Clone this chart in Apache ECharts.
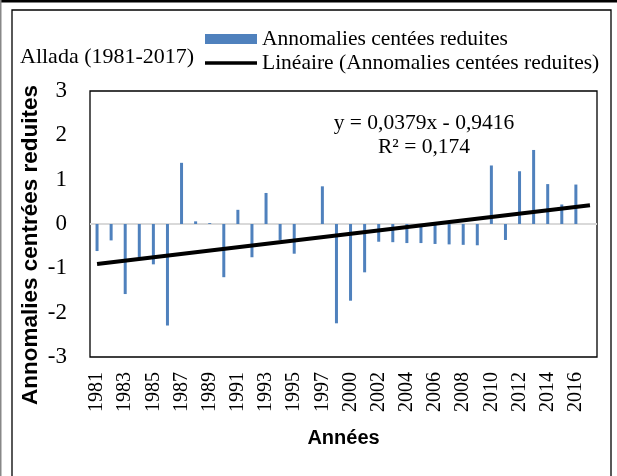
<!DOCTYPE html>
<html>
<head>
<meta charset="utf-8">
<script src="https://cdn.jsdelivr.net/npm/echarts@6/dist/echarts.min.js"></script>
<style>
  html, body { margin: 0; padding: 0; background: #fff; }
  #chart { width: 617px; height: 476px; }
</style>
</head>
<body>
<div id="chart"></div>
<script>
// Allada station, standardised anomalies, 1981-2017
const years = [
  '1981','1982','1983','1984','1985','1986','1987','1988','1989','1990',
  '1991','1992','1993','1994','1995','1996','1997','1998','2000','2001',
  '2002','2003','2004','2005','2006','2007','2008','2009','2010','2011',
  '2012','2013','2014','2015','2016','2017'
];
const anomalies = [
  -0.61, -0.37, -1.58, -0.75, -0.91, -2.29, 1.38, 0.06, 0.02, -1.20,
   0.32, -0.75, 0.70, -0.36, -0.67, 0.00, 0.85, -2.24, -1.73, -1.09,
  -0.40, -0.41, -0.43, -0.43, -0.45, -0.46, -0.47, -0.48, 1.32, -0.36,
   1.19, 1.67, 0.90, 0.44, 0.89, 0.00
];
const yTicks = [-3, -2, -1, 0, 1, 2, 3];

// Linear trend, x = 1..n (rank of the year)
const TREND_SLOPE = 0.0379;
const TREND_INTERCEPT = -0.9416;
const R2_TEXT = 'R² = 0,174';
const EQ_TEXT = 'y = 0,0379x - 0,9416';

const BAR_NAME = 'Annomalies centées reduites';
const TREND_NAME = 'Linéaire (Annomalies centées reduites)';
const Y_TITLE = 'Annomalies centrées reduites';
const X_TITLE = 'Années';

const trend = years.map(() => null);
trend[0] = +(TREND_SLOPE * 1 + TREND_INTERCEPT).toFixed(4);
trend[years.length - 1] = +(TREND_SLOPE * years.length + TREND_INTERCEPT).toFixed(4);

const serif = '"Liberation Serif", "Times New Roman", serif';
const sans = '"Liberation Sans", Arial, sans-serif';

const chart = echarts.init(document.getElementById('chart'), null, { renderer: 'canvas' });
chart.setOption({
  animation: false,
  backgroundColor: '#ffffff',
  grid: {
    left: 90, right: 20, top: 91, bottom: 119,
    show: true, borderColor: '#000', borderWidth: 1.3, backgroundColor: 'transparent'
  },
  legend: {
    orient: 'vertical',
    left: 200, top: 23,
    itemWidth: 52, itemHeight: 10,
    itemGap: 2,
    textStyle: { fontFamily: serif, fontSize: 21.5, color: '#000' },
    data: [
      { name: BAR_NAME, icon: 'rect' },
      // thin horizontal bar centred in the 52x10 icon box
      { name: TREND_NAME, icon: 'path://M0,0 M0,10 M0,3.3 L52,3.3 L52,6.7 L0,6.7 Z', itemStyle: { color: '#000' } }
    ]
  },
  xAxis: {
    type: 'category',
    data: years,
    boundaryGap: true,
    axisLine: { show: false, onZero: false },
    axisTick: { show: false },
    axisLabel: {
      interval: 1, rotate: 90, margin: 15,
      fontFamily: serif, fontSize: 20, color: '#000'
    },
    name: X_TITLE,
    nameLocation: 'middle',
    nameGap: 71,
    nameTextStyle: { fontFamily: sans, fontWeight: 'bold', fontSize: 20, color: '#000' }
  },
  yAxis: {
    type: 'value',
    min: yTicks[0], max: yTicks[yTicks.length - 1], interval: 1,
    axisLine: { show: false },
    axisTick: { show: false },
    splitLine: { show: false },
    axisLabel: { margin: 23, fontFamily: serif, fontSize: 23, color: '#000' }
  },
  series: [
    {
      name: BAR_NAME,
      type: 'bar',
      data: anomalies,
      barWidth: 3,
      itemStyle: { color: '#4f81bd' },
      markLine: {
        silent: true,
        symbol: 'none',
        label: { show: false },
        lineStyle: { color: '#d9d9d9', width: 2, type: 'solid' },
        data: [{ yAxis: 0 }],
        z: 1
      },
      z: 2
    },
    {
      name: TREND_NAME,
      type: 'line',
      data: trend,
      connectNulls: true,
      symbol: 'none',
      lineStyle: { color: '#000', width: 4 },
      itemStyle: { color: '#000' },
      z: 3
    }
  ],
  graphic: [
    { type: 'rect', left: 0, top: 0, shape: { width: 617, height: 2.5 }, style: { fill: '#000' }, silent: true },
    { type: 'rect', left: 0, top: 0, shape: { width: 1.5, height: 476 }, style: { fill: '#888' }, silent: true },
    { type: 'rect', shape: { x: 12, y: 10, width: 599, height: 480 }, style: { fill: 'none', stroke: '#000', lineWidth: 1.3 }, silent: true },
    { type: 'text', x: 20, y: 57, style: { text: 'Allada (1981-2017)', font: '22px ' + serif, fill: '#000', textVerticalAlign: 'middle' } },
    { type: 'text', x: 424, y: 123, style: { text: EQ_TEXT, font: '21.5px ' + serif, fill: '#000', textAlign: 'center', textVerticalAlign: 'middle' } },
    { type: 'text', x: 424, y: 147, style: { text: R2_TEXT, font: '21.5px ' + serif, fill: '#000', textAlign: 'center', textVerticalAlign: 'middle' } },
    { type: 'text', x: 31, y: 245, rotation: Math.PI / 2,
      style: { text: Y_TITLE, font: 'bold 22.5px ' + sans, fill: '#000', textAlign: 'center', textVerticalAlign: 'middle' } }
  ]
});
</script>
</body>
</html>
